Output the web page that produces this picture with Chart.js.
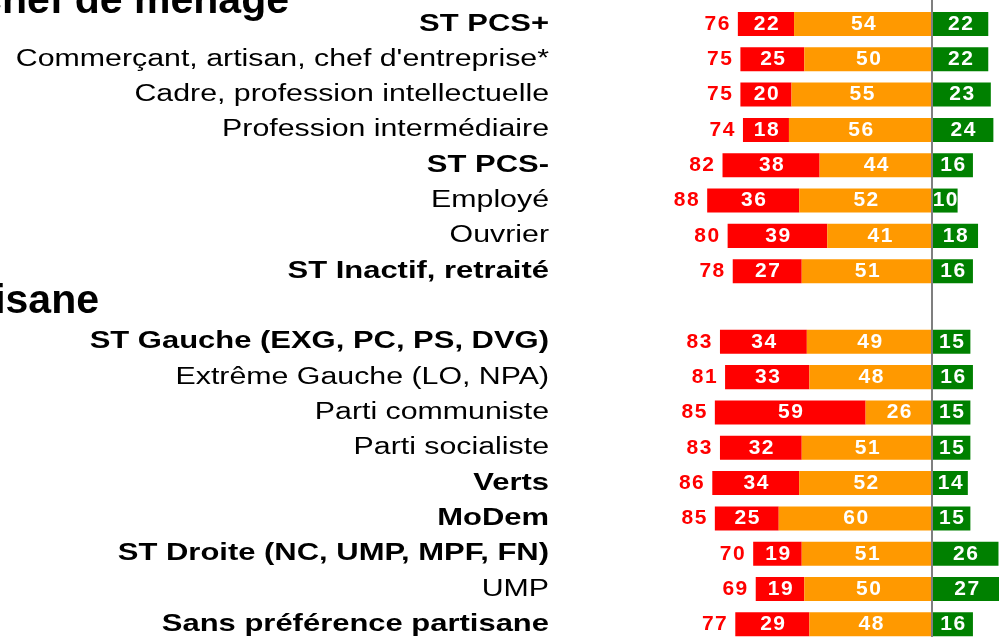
<!DOCTYPE html>
<html lang="fr">
<head>
<meta charset="utf-8">
<title>Profession du chef de ménage / Proximité partisane</title>
<script src="https://cdn.jsdelivr.net/npm/chart.js@4/dist/chart.umd.min.js"></script>
<style>
  html, body { margin: 0; padding: 0; background: #fff; overflow: hidden; }
  body { width: 999px; height: 637px; position: relative; }
  #wrap { position: absolute; left: 0; top: -29px; width: 999px; height: 671px; }
</style>
</head>
<body>
<div id="wrap"><canvas id="myChart"></canvas></div>
<script>
const categories = [
  "Profession du chef de ménage",
  "ST PCS+",
  "Commerçant, artisan, chef d'entreprise*",
  "Cadre, profession intellectuelle",
  "Profession intermédiaire",
  "ST PCS-",
  "Employé",
  "Ouvrier",
  "ST Inactif, retraité",
  "Proximité partisane",
  "ST Gauche (EXG, PC, PS, DVG)",
  "Extrême Gauche (LO, NPA)",
  "Parti communiste",
  "Parti socialiste",
  "Verts",
  "MoDem",
  "ST Droite (NC, UMP, MPF, FN)",
  "UMP",
  "Sans préférence partisane"
];
const sectionHeaders = ["Profession du chef de ménage", "Proximité partisane"];
const boldCategories = ["ST PCS+", "ST PCS-", "ST Inactif, retraité", "ST Gauche (EXG, PC, PS, DVG)",
  "Verts", "MoDem", "ST Droite (NC, UMP, MPF, FN)", "Sans préférence partisane"];

const redValues    = [null, 22, 25, 20, 18, 38, 36, 39, 27, null, 34, 33, 59, 32, 34, 25, 19, 19, 29];
const orangeValues = [null, 54, 50, 55, 56, 44, 52, 41, 51, null, 49, 48, 26, 51, 52, 60, 51, 50, 48];
const greenValues  = [null, 22, 22, 23, 24, 16, 10, 18, 16, null, 15, 16, 15, 15, 14, 15, 26, 27, 16];
const totalValues  = [null, 76, 75, 75, 74, 82, 88, 80, 78, null, 83, 81, 85, 83, 86, 85, 70, 69, 77];

const xMin = -145.6;
const xMax = 26.2;

const labelFont = '"Liberation Sans", Arial, sans-serif';
// the category labels of the original are drawn wider than the font
const labelStretch = 1.29;
const labelRight = 549;

const negative = (arr) => arr.map(v => v === null ? null : -v);

const labelPlugin = {
  id: 'labelPlugin',
  beforeDraw(chart) {
    const ctx = chart.ctx;
    ctx.save();
    ctx.translate(labelRight * (1 - labelStretch), 0);
    ctx.scale(labelStretch, 1);
  },
  beforeDatasetsDraw(chart) {
    chart.ctx.restore();
  },
  afterDatasetsDraw(chart) {
    const ctx = chart.ctx;
    const xScale = chart.scales.x;
    const yScale = chart.scales.y;
    ctx.save();

    // values inside the bars
    ctx.font = 'bold 21px ' + labelFont;
    ctx.letterSpacing = '1.5px';
    ctx.textAlign = 'center';
    ctx.textBaseline = 'middle';
    ctx.fillStyle = '#ffffff';
    chart.data.datasets.forEach((ds, di) => {
      chart.getDatasetMeta(di).data.forEach((bar, i) => {
        const v = ds.data[i];
        if (v === null) return;
        ctx.fillText(String(Math.abs(v)), (bar.x + bar.base) / 2 + 1, bar.y);
      });
    });

    // totals left of the bars
    ctx.fillStyle = '#ff0000';
    ctx.textAlign = 'right';
    totalValues.forEach((t, i) => {
      if (t === null) return;
      const bar = chart.getDatasetMeta(1).data[i];
      ctx.fillText(String(t), Math.min(bar.x, bar.base) - 7, bar.y);
    });

    // zero line
    const x0 = Math.round(xScale.getPixelForValue(0));
    ctx.strokeStyle = '#7f7f7f';
    ctx.lineWidth = 2;
    ctx.beginPath();
    ctx.moveTo(x0, 0);
    ctx.lineTo(x0, chart.height);
    ctx.stroke();

    // section headers (cut by the left edge)
    ctx.font = 'bold 41px ' + labelFont;
    ctx.letterSpacing = '0px';
    ctx.fillStyle = '#000000';
    ctx.textAlign = 'right';
    ctx.textBaseline = 'alphabetic';
    const ends = [289, 99];
    const offsets = [24, 6];
    sectionHeaders.forEach((h, k) => {
      const y = yScale.getPixelForValue(categories.indexOf(h)) + offsets[k];
      ctx.fillText(h, ends[k], y);
    });

    ctx.restore();
  }
};

const ctx = document.getElementById('myChart');

const myChart = new Chart(ctx, {
  type: 'bar',
  data: {
    labels: categories,
    datasets: [
      { label: 'orange', data: negative(orangeValues), backgroundColor: '#ff9900' },
      { label: 'rouge', data: negative(redValues), backgroundColor: '#ff0000' },
      { label: 'vert', data: greenValues, backgroundColor: '#008000' }
    ]
  },
  options: {
    indexAxis: 'y',
    responsive: true,
    maintainAspectRatio: false,
    animation: false,
    layout: { padding: 0 },
    categoryPercentage: 1,
    barPercentage: 0.68,
    plugins: {
      legend: { display: false },
      tooltip: { enabled: false }
    },
    scales: {
      x: {
        stacked: true,
        display: false,
        min: xMin,
        max: xMax
      },
      y: {
        stacked: true,
        grid: { display: false, drawTicks: false },
        border: { display: false },
        afterFit(scale) {
          scale.width = 560;
          scale.paddingTop = 0;
          scale.paddingBottom = 0;
        },
        ticks: {
          autoSkip: false,
          padding: 11,
          color: '#000000',
          callback: (value, index) => sectionHeaders.includes(categories[index]) ? '' : categories[index],
          font: (c) => {
            const bold = boldCategories.includes(categories[c.index]);
            return { family: labelFont, size: bold ? 24 : 23.5, weight: bold ? 'bold' : 'normal' };
          }
        }
      }
    }
  },
  plugins: [labelPlugin]
});
</script>
</body>
</html>
